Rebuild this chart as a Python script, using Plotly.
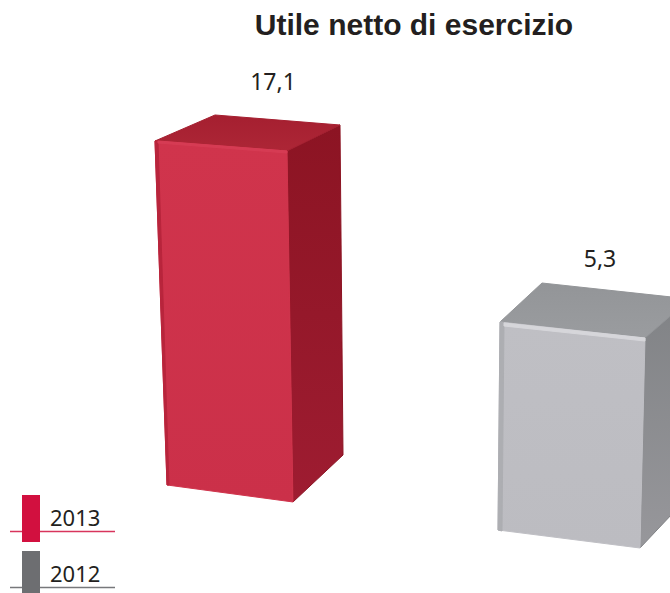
import plotly.graph_objects as go

years = ["2013", "2012"]
values = [17.1, 5.3]
value_labels = ["17,1", "5,3"]
title_text = "Utile netto di esercizio"

W, H = 670, 593
# axis scale: one category step and one value unit, in pixels
CAT_PX = 345
VAL_PX = 15.34
LEFT_PX = 155      # where the first bar starts
ZERO_PX = 403.3    # where value 0 sits

# box shapes, pixel offsets from each bar's top-left front corner
boxes = [
    dict(front=[(0, 0), (132, 10), (138, 361), (12, 344)],
         top=[(0, 0), (60, -26), (185, -16), (132, 10)],
         side=[(132, 10), (185, -16), (188, 314), (138, 361)],
         edge=[(0, 0), (3, 0), (14, 344), (12, 344)],
         shine=[(3, 0), (132, 10), (132, 12), (3, 2)],
         front_col=["#d0344c", "#cb3049"], top_col=["#a51f30", "#ad2636"],
         side_col=["#8c1423", "#9e1c31"], edge_col="#b8253c", shine_col="#d63c54"),
    dict(front=[(0, 0), (145, 16), (140, 226), (-2, 208)],
         top=[(0, 0), (42, -39), (190, -23), (145, 16)],
         side=[(145, 16), (190, -32), (190, 173), (140, 226)],
         edge=[(0, 0), (4, 1), (2, 209), (-2, 208)],
         shine=[(4, 1), (145, 16), (145, 19), (4, 4)],
         front_col=["#bfbfc4", "#bcbcc1"], top_col=["#939598", "#9a9c9f"],
         side_col=["#808285", "#97979b"], edge_col="#adaeb2", shine_col="#d6d6da"),
]
label_offsets = [(118, -56.5), (100, -61)]

legend_colors = ["#d2103f", "#6d6e71"]
legend_lines = ["#d8345c", "#77787b"]
legend_tops = [495, 551]


def poly(i, pts):
    xs = [i + dx / CAT_PX for dx, dy in pts]
    ys = [values[i] - dy / VAL_PX for dx, dy in pts]
    return xs + xs[:1], ys + ys[:1]


def face(i, pts, cols):
    xs, ys = poly(i, pts)
    return go.Scatter(
        x=xs, y=ys, mode="lines", fill="toself",
        line=dict(color=cols[0], width=1),
        fillgradient=dict(type="vertical", colorscale=[[0, cols[1]], [1, cols[0]]]),
        hoverinfo="skip", showlegend=False,
    )


fig = go.Figure()
for i, b in enumerate(boxes):
    fig.add_trace(face(i, b["side"], b["side_col"]))
    fig.add_trace(face(i, b["top"], b["top_col"]))
    fig.add_trace(face(i, b["front"], b["front_col"]))
    fig.add_trace(face(i, b["edge"], [b["edge_col"], b["edge_col"]]))
    fig.add_trace(face(i, b["shine"], [b["shine_col"], b["shine_col"]]))

fig.add_trace(go.Scatter(
    x=[i + label_offsets[i][0] / CAT_PX for i in range(len(values))],
    y=[values[i] - label_offsets[i][1] / VAL_PX for i in range(len(values))],
    mode="text", text=value_labels,
    textfont=dict(family="Noto Sans", size=23, color="#231f20"),
    hoverinfo="skip", showlegend=False,
))

for year, col, line_col, t in zip(years, legend_colors, legend_lines, legend_tops):
    fig.add_shape(type="line", xref="paper", yref="paper",
                  x0=10 / W, x1=115 / W, y0=1 - (t + 36.5) / H, y1=1 - (t + 36.5) / H,
                  line=dict(color=line_col, width=1.5))
    fig.add_shape(type="rect", xref="paper", yref="paper",
                  x0=22 / W, x1=40 / W, y0=1 - t / H, y1=1 - (t + 47) / H,
                  fillcolor=col, line_width=0)
    fig.add_annotation(text=year, xref="paper", yref="paper", x=48 / W, y=1 - (t + 21.5) / H,
                       xanchor="left", yanchor="middle", showarrow=False,
                       font=dict(family="Noto Sans", size=22, color="#231f20"))

fig.update_layout(
    width=W, height=H,
    margin=dict(l=0, r=0, t=0, b=0),
    paper_bgcolor="white", plot_bgcolor="white",
    showlegend=False,
    title=dict(text="<b>" + title_text + "</b>", x=414 / W, xanchor="center",
               y=1 - 24 / H, yanchor="middle",
               font=dict(family="Liberation Sans", size=30, color="#231f20")),
    xaxis=dict(range=[-LEFT_PX / CAT_PX, (W - LEFT_PX) / CAT_PX], visible=False, fixedrange=True),
    yaxis=dict(range=[(ZERO_PX - H) / VAL_PX, ZERO_PX / VAL_PX], visible=False, fixedrange=True),
)

# page body has a default margin that would shift the chart
fig.write_html("out.html", config={"displayModeBar": False},
               post_script="document.body.style.margin='0';")
